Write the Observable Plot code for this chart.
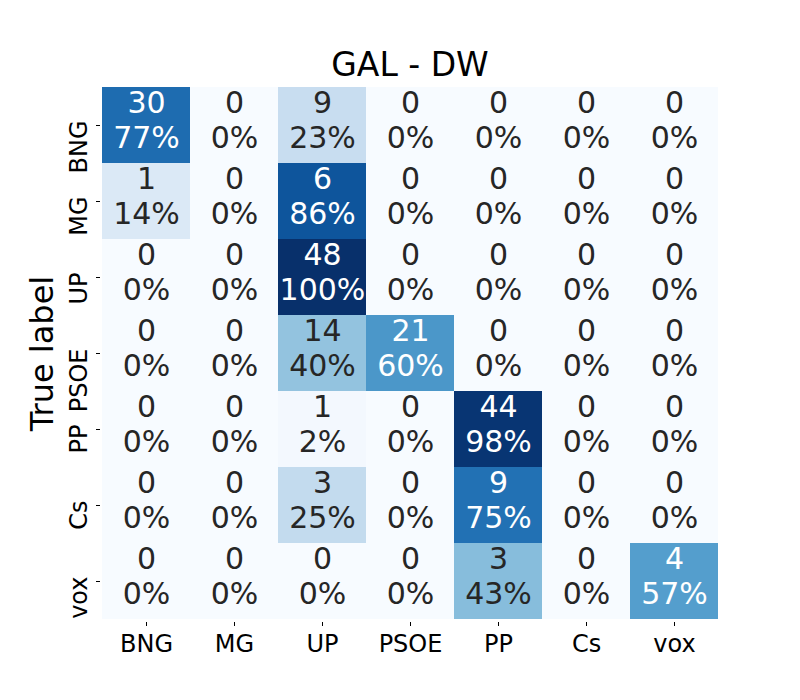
<!DOCTYPE html>
<html>
<head>
<meta charset="utf-8">
<script src="https://cdn.jsdelivr.net/npm/d3@7"></script>
<script src="https://cdn.jsdelivr.net/npm/@observablehq/plot@0.6"></script>
<style>
  html, body { margin: 0; padding: 0; background: #fff; }
  #wrap { position: relative; width: 800px; height: 700px; font-family: "DejaVu Sans", sans-serif; }
  #title { position: absolute; left: 100px; width: 620px; top: 48px; text-align: center; font-size: 33px; color: #000; line-height: 1; }
  svg { display: block; }
</style>
</head>
<body>
<div id="wrap">
  <div id="title">GAL - DW</div>
  <div id="chart"></div>
</div>
<script>
const labels = ["BNG", "MG", "UP", "PSOE", "PP", "Cs", "vox"];
const counts = [
  [30, 0, 9, 0, 0, 0, 0],
  [1, 0, 6, 0, 0, 0, 0],
  [0, 0, 48, 0, 0, 0, 0],
  [0, 0, 14, 21, 0, 0, 0],
  [0, 0, 1, 0, 44, 0, 0],
  [0, 0, 3, 0, 9, 0, 0],
  [0, 0, 0, 0, 3, 0, 4]
];
const percents = [
  [77, 0, 23, 0, 0, 0, 0],
  [14, 0, 86, 0, 0, 0, 0],
  [0, 0, 100, 0, 0, 0, 0],
  [0, 0, 40, 60, 0, 0, 0],
  [0, 0, 2, 0, 98, 0, 0],
  [0, 0, 25, 0, 75, 0, 0],
  [0, 0, 0, 0, 43, 0, 57]
];

const cells = [];
labels.forEach((t, i) => labels.forEach((p, j) => {
  cells.push({truth: t, pred: p, count: counts[i][j], pct: percents[i][j]});
}));

const chart = Plot.plot({
  width: 800,
  height: 700,
  marginLeft: 100,
  marginRight: 80,
  marginTop: 84,
  marginBottom: 78,
  style: {fontFamily: "DejaVu Sans, sans-serif", background: "#fff"},
  x: {domain: labels, padding: 0},
  y: {domain: labels, padding: 0},
  color: {type: "linear", domain: [0, 100], scheme: "blues"},
  marks: [
    Plot.cell(cells, {x: "pred", y: "truth", fill: "pct", inset: 0}),
    Plot.text(cells, {
      x: "pred", y: "truth",
      text: d => `${d.count}\n${d.pct}%`,
      lineHeight: 1.16,
      fontSize: 30,
      dy: -6,
      fill: d => d.pct >= 50 ? "#ffffff" : "#262626"
    }),
    Plot.axisX({anchor: "bottom", tickSize: 4, tickPadding: 8, fontSize: 24, label: null, color: "#000"}),
    Plot.axisY({anchor: "left", tickSize: 4, tickFormat: () => "", fontSize: 24,
      label: "True label", labelAnchor: "center", labelArrow: "none", labelOffset: 70, color: "#000"}),
    Plot.text(labels, {
      y: d => d, frameAnchor: "left", rotate: -90,
      textAnchor: "end", lineAnchor: "bottom",
      dx: -14, dy: -5, fontSize: 24, fill: "#000"
    })
  ]
});
document.getElementById("chart").appendChild(chart);
// enlarge the y axis label
chart.querySelectorAll("g[aria-label='y-axis label'] text").forEach(t => t.setAttribute("font-size", "32"));
</script>
</body>
</html>
